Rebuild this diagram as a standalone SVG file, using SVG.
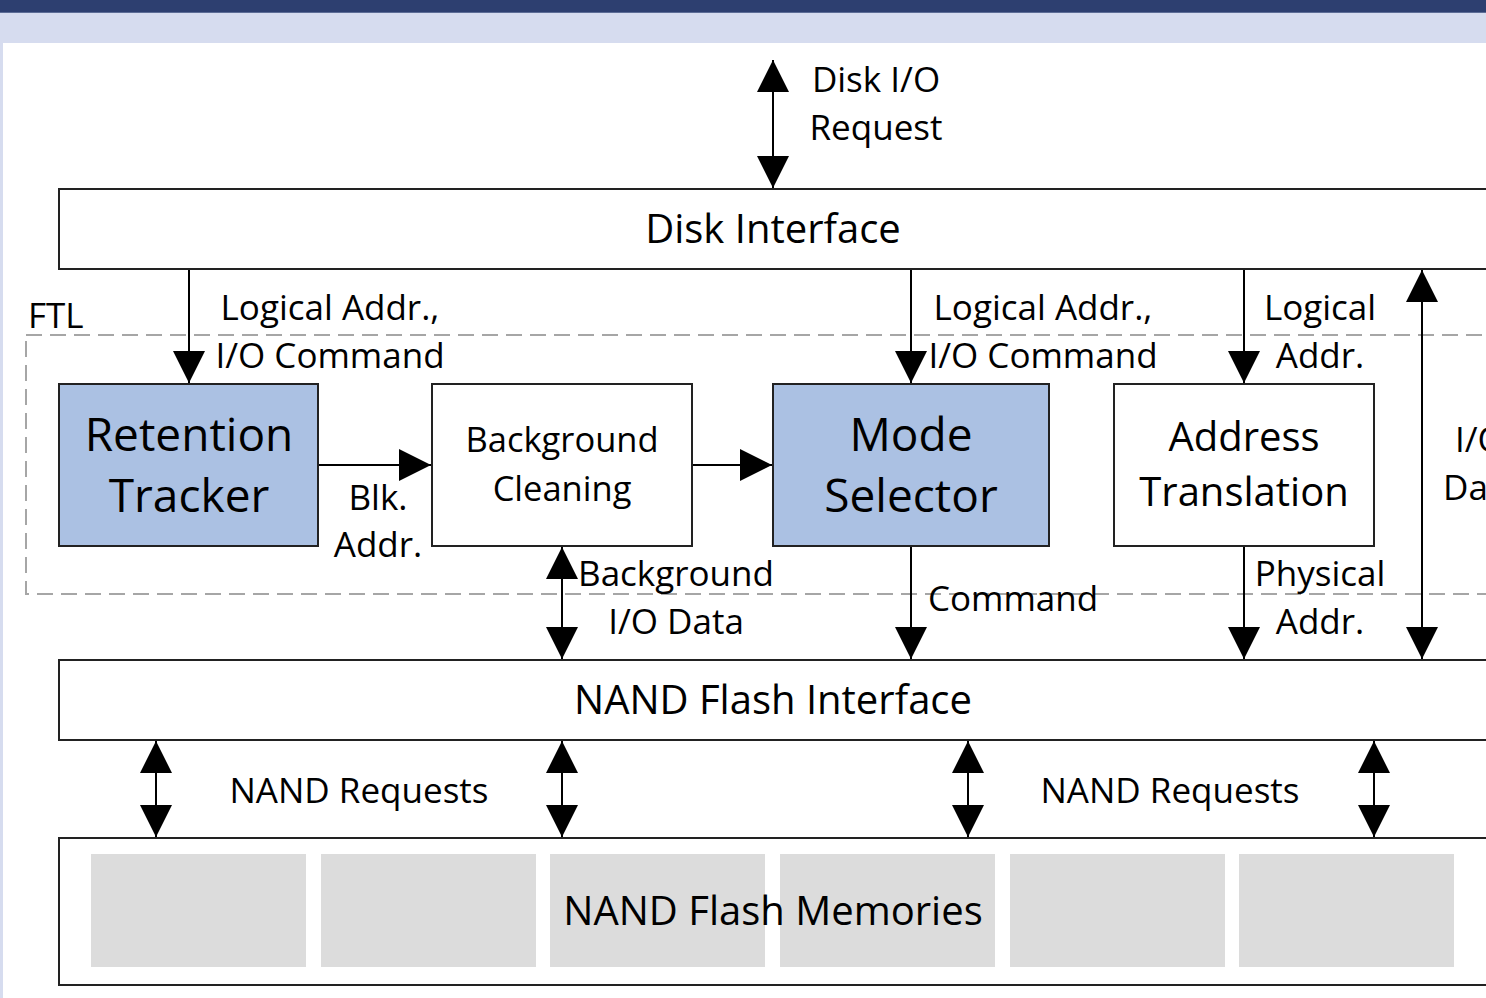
<svg xmlns="http://www.w3.org/2000/svg" width="1486" height="998" viewBox="0 0 1486 998">
<style>
.box{fill:#fff;stroke:#222;stroke-width:2}
.blue{fill:#abc1e3;stroke:#222;stroke-width:2}
.t{font-family:"Open Sans","DejaVu Sans",sans-serif;fill:#000;text-anchor:middle}
.ts{font-family:"Open Sans","DejaVu Sans",sans-serif;fill:#000;text-anchor:start}
.lbl{font-size:35px}
.line{stroke:#000;stroke-width:2;fill:none}
</style>
<defs>
<marker id="ah" markerUnits="userSpaceOnUse" markerWidth="32" markerHeight="32" refX="30" refY="15" orient="auto-start-reverse" viewBox="0 0 30 30">
<path d="M0,0 L30,15 L0,30 z" fill="#000"/>
</marker>
</defs>
<rect x="0" y="0" width="1486" height="998" fill="#fff"/>
<rect x="0" y="0" width="1486" height="12" fill="#2d3f70"/>
<rect x="0" y="12" width="1486" height="1" fill="#5c6c96"/>
<rect x="0" y="13" width="1486" height="30" fill="#d6dcef"/>
<rect x="0" y="13" width="3" height="985" fill="#d6dcef"/>

<g id="ftl">
<rect x="26" y="335" width="1480" height="259" fill="none" stroke="#a6a6a6" stroke-width="2" stroke-dasharray="16 8"/>
<text class="ts lbl" x="28" y="328">FTL</text>
</g>

<g id="disk-interface">
<rect class="box" x="59" y="189" width="1450" height="80"/>
<text class="t" x="773" y="243" font-size="40">Disk Interface</text>
</g>

<g id="retention-tracker">
<rect class="blue" x="59" y="384" width="259" height="162"/>
<text class="t" x="189" y="451" font-size="46">Retention</text>
<text class="t" x="189" y="512" font-size="46">Tracker</text>
</g>

<g id="background-cleaning">
<rect class="box" x="432" y="384" width="260" height="162"/>
<text class="t" x="562" y="452" font-size="34.5">Background</text>
<text class="t" x="562" y="501" font-size="34.5">Cleaning</text>
</g>

<g id="mode-selector">
<rect class="blue" x="773" y="384" width="276" height="162"/>
<text class="t" x="911" y="451" font-size="46">Mode</text>
<text class="t" x="911" y="512" font-size="46">Selector</text>
</g>

<g id="address-translation">
<rect class="box" x="1114" y="384" width="260" height="162"/>
<text class="t" x="1244" y="451" font-size="40">Address</text>
<text class="t" x="1244" y="506" font-size="40">Translation</text>
</g>

<g id="nand-flash-interface">
<rect class="box" x="59" y="660" width="1450" height="80"/>
<text class="t" x="773" y="714" font-size="40">NAND Flash Interface</text>
</g>

<g id="nand-flash-memories">
<rect class="box" x="59" y="838" width="1450" height="147"/>
<rect x="91" y="854" width="215" height="113" fill="#dcdcdc"/>
<rect x="321" y="854" width="215" height="113" fill="#dcdcdc"/>
<rect x="550" y="854" width="215" height="113" fill="#dcdcdc"/>
<rect x="780" y="854" width="215" height="113" fill="#dcdcdc"/>
<rect x="1010" y="854" width="215" height="113" fill="#dcdcdc"/>
<rect x="1239" y="854" width="215" height="113" fill="#dcdcdc"/>
<text class="t" x="773" y="925" font-size="40">NAND Flash Memories</text>
</g>

<g id="connectors">
<line class="line" x1="773" y1="60" x2="773" y2="188" marker-start="url(#ah)" marker-end="url(#ah)"/>
<line class="line" x1="189" y1="270" x2="189" y2="383" marker-end="url(#ah)"/>
<line class="line" x1="911" y1="270" x2="911" y2="383" marker-end="url(#ah)"/>
<line class="line" x1="1244" y1="270" x2="1244" y2="383" marker-end="url(#ah)"/>
<line class="line" x1="1422" y1="270" x2="1422" y2="659" marker-start="url(#ah)" marker-end="url(#ah)"/>
<line class="line" x1="319" y1="465" x2="431" y2="465" marker-end="url(#ah)"/>
<line class="line" x1="693" y1="465" x2="772" y2="465" marker-end="url(#ah)"/>
<line class="line" x1="562" y1="547" x2="562" y2="659" marker-start="url(#ah)" marker-end="url(#ah)"/>
<line class="line" x1="911" y1="547" x2="911" y2="659" marker-end="url(#ah)"/>
<line class="line" x1="1244" y1="547" x2="1244" y2="659" marker-end="url(#ah)"/>
<line class="line" x1="156" y1="741" x2="156" y2="837" marker-start="url(#ah)" marker-end="url(#ah)"/>
<line class="line" x1="562" y1="741" x2="562" y2="837" marker-start="url(#ah)" marker-end="url(#ah)"/>
<line class="line" x1="968" y1="741" x2="968" y2="837" marker-start="url(#ah)" marker-end="url(#ah)"/>
<line class="line" x1="1374" y1="741" x2="1374" y2="837" marker-start="url(#ah)" marker-end="url(#ah)"/>

<text class="t lbl" x="876" y="92">Disk I/O</text>
<text class="t lbl" x="876" y="140">Request</text>
<text class="t lbl" x="330" y="320">Logical Addr.,</text>
<text class="t lbl" x="330" y="368">I/O Command</text>
<text class="t lbl" x="1043" y="320">Logical Addr.,</text>
<text class="t lbl" x="1043" y="368">I/O Command</text>
<text class="t lbl" x="1320" y="320">Logical</text>
<text class="t lbl" x="1320" y="368">Addr.</text>
<text class="ts lbl" x="1455" y="452">I/O</text>
<text class="ts lbl" x="1443" y="500">Data</text>
<text class="t lbl" x="378" y="510">Blk.</text>
<text class="t lbl" x="378" y="557">Addr.</text>
<text class="t lbl" x="676" y="586">Background</text>
<text class="t lbl" x="676" y="634">I/O Data</text>
<text class="t lbl" x="1013" y="611">Command</text>
<text class="t lbl" x="1320" y="586">Physical</text>
<text class="t lbl" x="1320" y="634">Addr.</text>
<text class="t lbl" x="359" y="803">NAND Requests</text>
<text class="t lbl" x="1170" y="803">NAND Requests</text>
</g>
</svg>
